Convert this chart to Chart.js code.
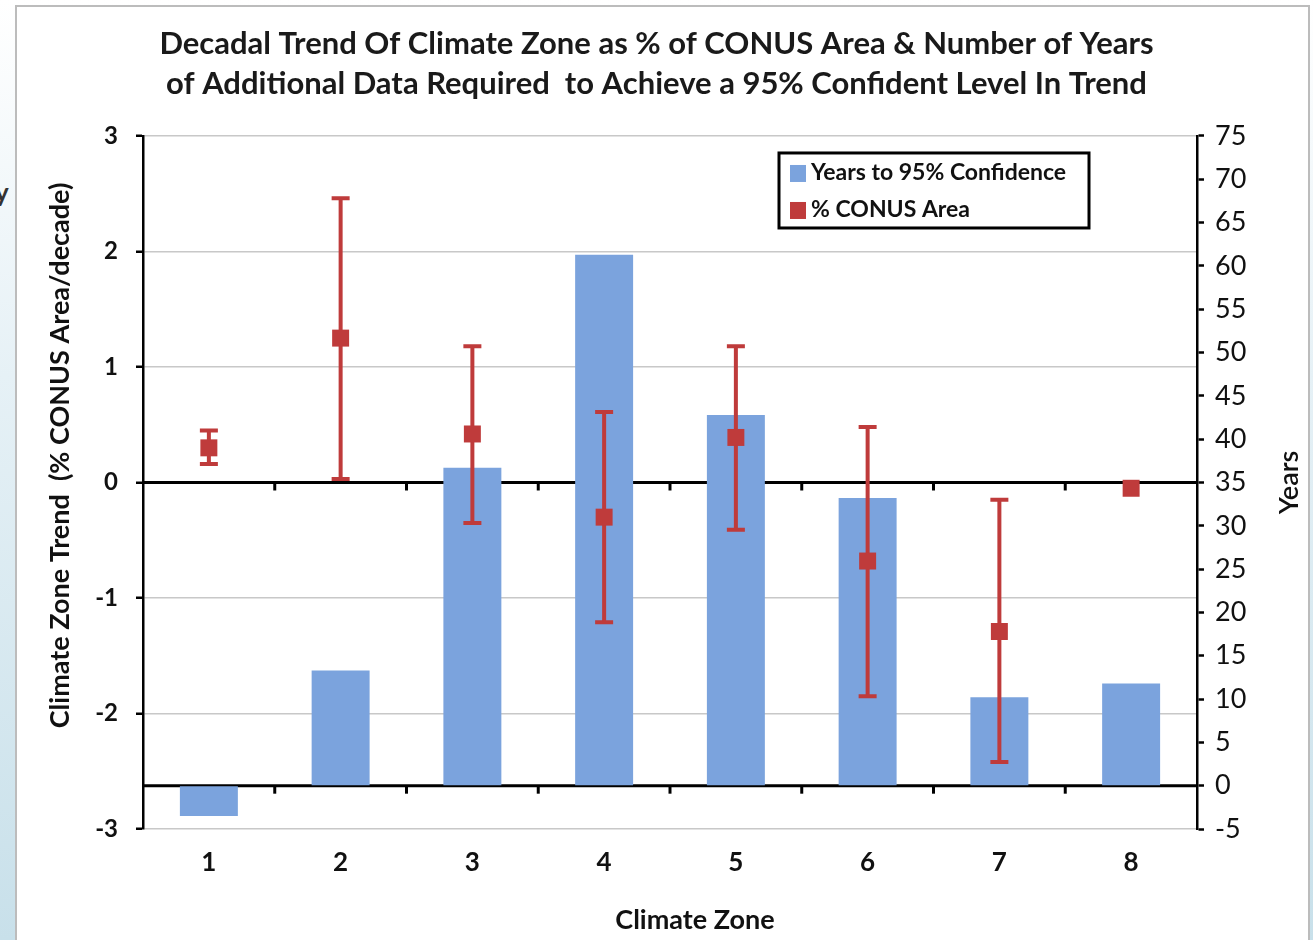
<!DOCTYPE html>
<html>
<head>
<meta charset="utf-8">
<title>Climate Zone Trend</title>
<script src="https://cdn.jsdelivr.net/npm/chart.js@4.4.0/dist/chart.umd.min.js"></script>
<style>
  body {
    margin: 0;
    width: 1313px;
    height: 940px;
    overflow: hidden;
    background: linear-gradient(to bottom, #ffffff 0%, #e6f1f6 40%, #c8e0ea 100%);
    font-family: Lato, "Open Sans", sans-serif;
  }
  #frame {
    position: absolute;
    left: 15px;
    top: 5px;
    width: 1291px;
    height: 940px;
    background: #ffffff;
    border: 2px solid #bcbcbc;
  }
  #stray {
    position: absolute;
    left: -5px;
    top: 176px;
    font: bold 26px Lato, sans-serif;
    color: #333;
  }
  #wrap {
    position: absolute;
    left: 0;
    top: 0;
    width: 1313px;
    height: 940px;
  }
</style>
</head>
<body>
<span id="stray">y</span>
<div id="frame"></div>
<div id="wrap"><canvas id="myChart" width="1313" height="940"></canvas></div>

<script>
// valeurs
const zones = ['1', '2', '3', '4', '5', '6', '7', '8'];

// barres : années pour 95% de confiance (axe de droite)
const yearsTo95 = [-3.5, 13.3, 36.7, 61.3, 42.8, 33.2, 10.2, 11.8];

// points : tendance % surface CONUS / décennie (axe de gauche)
const conusTrend = [0.30, 1.25, 0.42, -0.30, 0.39, -0.68, -1.29, -0.05];
const trendHigh = [0.45, 2.46, 1.18, 0.61, 1.18, 0.48, -0.15, null];
const trendLow = [0.16, 0.03, -0.35, -1.21, -0.41, -1.85, -2.42, null];

const titleLines = [
  'Decadal Trend Of Climate Zone as % of CONUS Area & Number of Years',
  'of Additional Data Required  to Achieve a 95% Confident Level In Trend'
];
const leftTitle = 'Climate Zone Trend  (% CONUS Area/decade)';
const rightTitle = 'Years';
const bottomTitle = 'Climate Zone';

const barColor = '#7ba3dd';
const redColor = '#bf3b3b';

// lignes du zéro (deux axes) + petites graduations
const zeroLines = {
  id: 'zeroLines',
  beforeDatasetsDraw(chart) {
    const ctx = chart.ctx;
    const area = chart.chartArea;
    const x = chart.scales.x;
    const levels = [chart.scales.y.getPixelForValue(0), chart.scales.y2.getPixelForValue(0)];
    ctx.save();
    ctx.strokeStyle = '#000';
    ctx.lineWidth = 3;
    levels.forEach(function(py) {
      ctx.beginPath();
      ctx.moveTo(area.left, py);
      ctx.lineTo(area.right, py);
      ctx.stroke();
      for (let i = 1; i < zones.length; i++) {
        let px = (x.getPixelForValue(i - 1) + x.getPixelForValue(i)) / 2;
        ctx.beginPath();
        ctx.moveTo(px, py);
        ctx.lineTo(px, py + 8);
        ctx.stroke();
      }
    });
    ctx.restore();
  }
};

// barres d'erreur sous les marqueurs
const errorBars = {
  id: 'errorBars',
  beforeDatasetDraw(chart, args) {
    if (args.index !== 1) return;
    const ctx = chart.ctx;
    const x = chart.scales.x;
    const y = chart.scales.y;
    ctx.save();
    ctx.strokeStyle = redColor;
    ctx.lineWidth = 4;
    for (let i = 0; i < zones.length; i++) {
      if (trendHigh[i] == null) continue;
      let px = x.getPixelForValue(i);
      let top = y.getPixelForValue(trendHigh[i]);
      let bot = y.getPixelForValue(trendLow[i]);
      ctx.beginPath();
      ctx.moveTo(px, top);
      ctx.lineTo(px, bot);
      ctx.moveTo(px - 9, top);
      ctx.lineTo(px + 9, top);
      ctx.moveTo(px - 9, bot);
      ctx.lineTo(px + 9, bot);
      ctx.stroke();
    }
    ctx.restore();
  }
};

// titres des axes (le titre de droite se lit de bas en haut)
const axisTitles = {
  id: 'axisTitles',
  afterDraw(chart) {
    const ctx = chart.ctx;
    const area = chart.chartArea;
    const midY = (area.top + area.bottom) / 2;
    ctx.save();
    ctx.fillStyle = '#111';
    ctx.textAlign = 'center';
    ctx.textBaseline = 'middle';

    ctx.font = 'bold 27px Lato';
    ctx.save();
    ctx.translate(area.left - 83, midY - 27);
    ctx.rotate(-Math.PI / 2);
    ctx.fillText(leftTitle, 0, 0);
    ctx.restore();

    ctx.font = '600 27px Lato';
    ctx.save();
    ctx.translate(area.right + 92, midY);
    ctx.rotate(-Math.PI / 2);
    ctx.fillText(rightTitle, 0, 0);
    ctx.restore();

    ctx.font = 'bold 27px Lato';
    ctx.fillText(bottomTitle, (area.left + area.right) / 2 + 25, area.bottom + 91);
    ctx.restore();
  }
};

// légende encadrée dans la zone du graphique
const boxLegend = {
  id: 'boxLegend',
  afterDraw(chart) {
    const ctx = chart.ctx;
    const area = chart.chartArea;
    const left = area.right - 418;
    const top = area.top + 17;
    const w = 310, h = 75;
    ctx.save();
    ctx.fillStyle = '#fff';
    ctx.fillRect(left, top, w, h);
    ctx.strokeStyle = '#000';
    ctx.lineWidth = 3;
    ctx.strokeRect(left, top, w, h);
    ctx.font = 'bold 23px Lato';
    ctx.textBaseline = 'middle';
    chart.data.datasets.forEach(function(ds, i) {
      let cy = top + 20 + i * 37;
      ctx.fillStyle = ds.backgroundColor;
      ctx.fillRect(left + 11, cy - 8, 16, 17);
      ctx.fillStyle = '#111';
      ctx.fillText(ds.label, left + 32, cy);
    });
    ctx.restore();
  }
};

const ctx = document.getElementById('myChart').getContext('2d');
const myChart = new Chart(ctx, {
  type: 'bar',
  data: {
    labels: zones,
    datasets: [{
      type: 'bar',
      label: 'Years to 95% Confidence',
      data: yearsTo95,
      yAxisID: 'y2',
      backgroundColor: barColor,
      categoryPercentage: 1,
      barPercentage: 0.44,
      order: 2
    }, {
      type: 'line',
      label: '% CONUS Area',
      data: conusTrend,
      yAxisID: 'y',
      showLine: false,
      pointStyle: 'rect',
      pointRadius: 12,
      pointBorderWidth: 0,
      backgroundColor: redColor,
      borderColor: redColor,
      order: 1
    }]
  },
  options: {
    responsive: false,
    animation: false,
    layout: { padding: 0 },
    plugins: {
      legend: { display: false },
      tooltip: { enabled: false },
      title: {
        display: true,
        text: titleLines,
        color: '#1a1a1a',
        font: { family: 'Lato', size: 31, weight: 'bold', lineHeight: 1.29 },
        padding: { top: 24, bottom: 32 }
      }
    },
    scales: {
      x: {
        grid: { display: false, drawTicks: false },
        border: { display: false },
        ticks: { color: '#111', padding: 18, font: { family: 'Lato', size: 26, weight: 'bold' } },
        afterFit: function(s) { s.height = 111; }
      },
      y: {
        position: 'left',
        min: -3,
        max: 3,
        ticks: { stepSize: 1, color: '#111', padding: 18, font: { family: 'Lato', size: 24, weight: 'bold' } },
        grid: {
          color: function(c) { return c.tick && c.tick.value === 0 ? 'rgba(0,0,0,0)' : '#c8c8c8'; },
          lineWidth: 1.5,
          tickColor: '#000',
          tickLength: 7,
          tickWidth: 2.5
        },
        border: { display: true, color: '#000', width: 2.5 },
        afterFit: function(s) { s.width = 143; }
      },
      y2: {
        position: 'right',
        min: -5,
        max: 75,
        ticks: { stepSize: 5, color: '#111', padding: 11, font: { family: 'Lato', size: 27 } },
        grid: {
          drawOnChartArea: false,
          tickColor: '#000',
          tickLength: 7,
          tickWidth: 2.5
        },
        border: { display: true, color: '#000', width: 2.5 },
        afterFit: function(s) { s.width = 116; }
      }
    }
  },
  plugins: [zeroLines, errorBars, axisTitles, boxLegend]
});
</script>
</body>
</html>
